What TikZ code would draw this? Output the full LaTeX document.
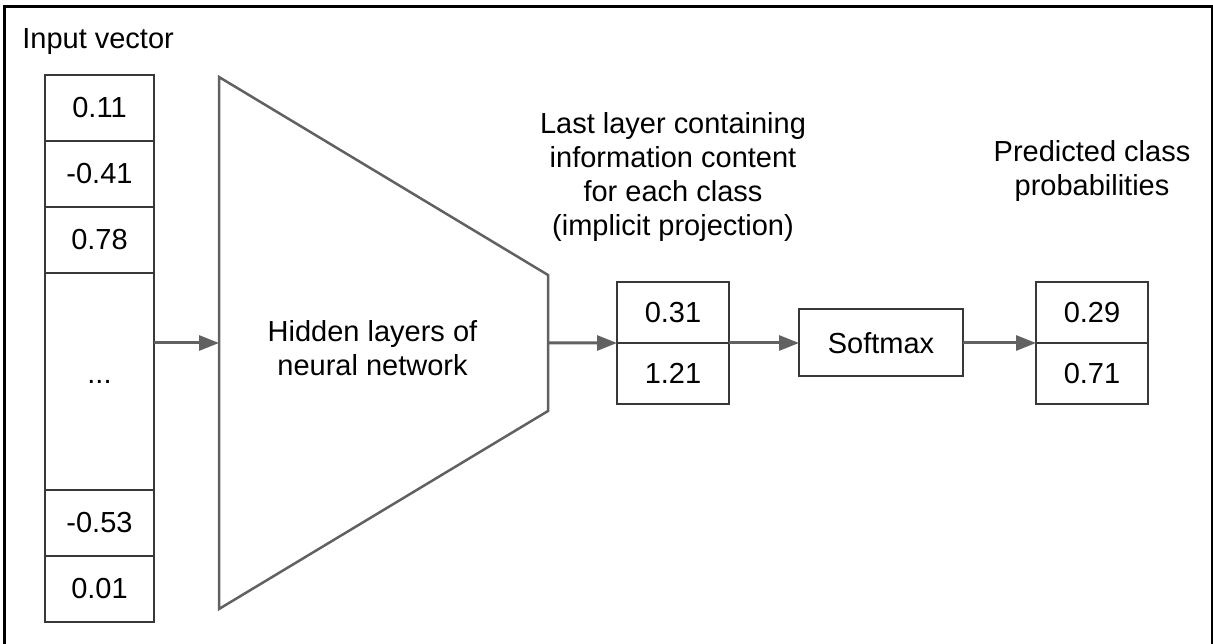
\documentclass[tikz,border=0pt]{standalone}
\usepackage{fontspec}
\setmainfont{Liberation Sans}
\usetikzlibrary{positioning,arrows.meta,calc}
\colorlet{okraj}{black!78}
\colorlet{sivá}{black!62}
\tikzset{
  bunka/.style={rectangle,draw=okraj,line width=0.4mm,minimum width=21.8mm,minimum height=13.2mm,inner sep=0pt,outer sep=0pt},
  bunkaM/.style={bunka,minimum width=22.4mm,minimum height=12.2mm},
  blok/.style={rectangle,draw=okraj,line width=0.4mm,minimum width=32.8mm,minimum height=13.4mm,inner sep=0pt,outer sep=0pt},
  lichob/.style={draw=sivá,line width=0.5mm,line join=miter},
  popis/.style={align=center,inner sep=0pt},
  sip/.style={draw=sivá,line width=0.6mm,-{Triangle[length=4mm,width=3mm]}},
}
\begin{document}
\begin{tikzpicture}[font=\fontsize{16.5}{19.4}\selectfont]
  \useasboundingbox (0,0) rectangle (242.6mm,-128.8mm);
  \draw[line width=0.6mm] (1mm,-131mm) |- (242.4mm,-1.4mm) -- (242.4mm,-131mm);
  % vstupny vektor
  \node[anchor=base west,inner sep=0pt] (nadpis) at (4.4mm,-9.8mm) {Input vector};
  \node[bunka] (v1) at (19.9mm,-21.6mm) {0.11};
  \node[bunka,below=0mm of v1] (v2) {-0.41};
  \node[bunka,below=0mm of v2] (v3) {0.78};
  \node[bunka,below=0mm of v3,minimum height=43.4mm] (v4) {...};
  \node[bunka,below=0mm of v4] (v5) {-0.53};
  \node[bunka,below=0mm of v5] (v6) {0.01};
  % skryte vrstvy
  \coordinate (t1) at (43.8mm,-15.4mm);
  \coordinate (t2) at (109.6mm,-55mm);
  \coordinate (t3) at (109.6mm,-82.2mm);
  \coordinate (t4) at (43.8mm,-121.8mm);
  \draw[lichob] (t1)--(t2)--(t3)--(t4)--cycle;
  \coordinate (tl) at ($(t1)!0.5!(t4)$);
  \coordinate (tr) at ($(t2)!0.5!(t3)$);
  \node[popis] (skryte) at (74.5mm,-69.6mm) {Hidden layers of\\neural network};
  % posledna vrstva, softmax, vystup
  \node[bunkaM,anchor=south] (m1) at (134.6mm,-68.6mm) {0.31};
  \node[bunkaM,below=0mm of m1] (m2) {1.21};
  \node[blok] (soft) at (176.2mm,-68.6mm) {Softmax};
  \node[bunkaM,anchor=south] (p1) at (218.4mm,-68.6mm) {0.29};
  \node[bunkaM,below=0mm of p1] (p2) {0.71};
  \node[popis,above=8mm of m1] (posl) {Last layer containing\\information content\\for each class\\(implicit projection)};
  \node[popis,above=16mm of p1] (pravd) {Predicted class\\probabilities};
  % sipky
  \draw[sip] (v4.east |- tl) -- (tl);
  \draw[sip] (tr) -- (m1.south west);
  \draw[sip] (m1.south east) -- (soft.west);
  \draw[sip] (soft.east) -- (p1.south west);
\end{tikzpicture}
\end{document}
